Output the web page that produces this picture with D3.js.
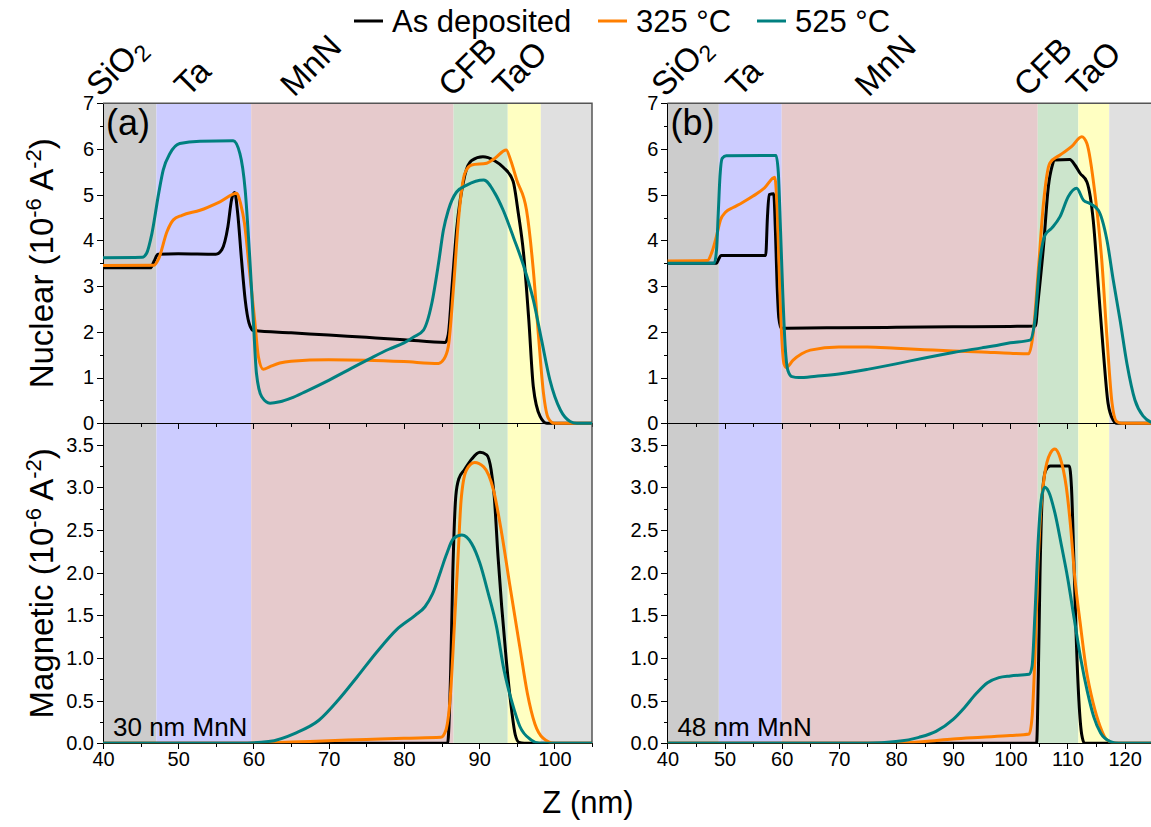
<!DOCTYPE html>
<html lang="en">
<head>
<meta charset="utf-8">
<title>Nuclear and magnetic SLD profiles</title>
<script src="https://cdn.jsdelivr.net/npm/d3@7"></script>
<style>
  body { margin: 0; background: #fff; }
  svg { font-family: "Liberation Sans", Arial, sans-serif; }
  .axis path, .axis line { stroke: #000; shape-rendering: crispEdges; }
  .axis text { font-size: 20px; fill: #000; }
  .curve { fill: none; stroke-width: 3px; stroke-linejoin: round; }
</style>
</head>
<body>
<script>

// ---- data (z in nm, SLD in 1e-6 A^-2) ----
var seriesNames = ["As deposited", "325 °C", "525 °C"];
var seriesColors = ["#000000", "#ff7f00", "#008080"];

var layerNames = ["SiO2", "Ta", "MnN", "CFB", "TaO", ""];
var layerColors = ["#cccccc", "#ccccff", "#e6cacc", "#cce5cc", "#ffffc2", "#e0e0e0"];
var layersA = [40, 47.1, 59.7, 86.6, 93.8, 98.2, 105];
var layersB = [40, 49.0, 60.0, 104.8, 111.9, 117.3, 125];

var nucTicks = [0, 1, 2, 3, 4, 5, 6, 7];
var magTicks = [0, 0.5, 1, 1.5, 2, 2.5, 3, 3.5];

// panel (a), nuclear
var nucA_dep = [[40,3.4],[46.3,3.4],[46.8,3.55],[47.3,3.7],[50,3.71],[55,3.7],[55.8,3.8],[56.6,4.3],[57.1,4.9],[57.5,5.05],[57.9,4.6],[58.4,3.6],[58.9,2.7],[59.4,2.2],[60,2.03],[65,1.98],[70,1.93],[75,1.88],[80,1.83],[85.5,1.77],[85.9,1.95],[86.4,3.0],[87.0,4.23],[88.1,5.43],[89,5.75],[90.5,5.83],[92,5.75],[93.2,5.6],[94.5,5.3],[95.2,4.6],[95.9,3.72],[96.6,2.26],[97.2,0.8],[98.1,0.15],[99,0],[105,0]];
var nucA_325 = [[40,3.45],[46.8,3.46],[47.4,3.6],[48.5,4.19],[49.35,4.45],[50.5,4.55],[52.9,4.66],[55.6,4.85],[57.8,5.03],[58.3,4.8],[58.8,4.38],[59.5,3.29],[60.2,2.19],[60.65,1.46],[61.3,1.18],[62.2,1.24],[63.5,1.32],[65,1.36],[70,1.39],[75,1.38],[80,1.35],[84.6,1.31],[85.3,1.4],[85.9,1.68],[86.6,2.99],[87.25,4.45],[88.1,5.47],[89.0,5.65],[91.0,5.69],[92.1,5.8],[93.6,5.98],[94.2,5.75],[95.0,5.32],[96.3,4.66],[97.2,3.35],[97.9,1.89],[98.55,0.66],[99.2,0.11],[100,0],[105,0]];
var nucA_525 = [[40,3.62],[45.2,3.63],[45.8,3.72],[46.5,4.15],[47.4,5.03],[48.0,5.54],[48.9,5.9],[50.2,6.12],[52.9,6.17],[57.3,6.18],[58.2,5.9],[58.9,5.1],[59.5,3.64],[60.0,2.19],[60.4,1.09],[61.1,0.58],[62.2,0.44],[63.5,0.47],[65,0.55],[67,0.7],[70,0.94],[73,1.2],[76,1.46],[78,1.62],[80,1.76],[81.3,1.89],[82.6,2.04],[83.7,2.62],[84.6,3.5],[85.25,4.23],[85.9,4.66],[87.0,5.06],[88.35,5.21],[90.6,5.32],[92.1,5.03],[93.2,4.66],[94.6,4.05],[95.9,3.45],[97.2,2.7],[98.3,1.82],[99.4,0.95],[100.8,0.29],[102.1,0.04],[103,0],[105,0]];

// panel (a), magnetic
var magA_dep = [[40,0],[85.8,0],[86.2,0.8],[86.5,2.0],[86.9,2.9],[87.3,3.1],[88,3.2],[89,3.33],[90.1,3.41],[91.0,3.38],[91.6,3.2],[92.0,2.9],[92.5,2.2],[93.0,1.6],[93.6,0.98],[94.3,0.4],[94.8,0.1],[95.3,0.01],[96,0],[105,0]];
var magA_325 = [[40,0],[60,0],[65,0.015],[70,0.03],[75,0.045],[80,0.06],[84.9,0.07],[85.6,0.16],[86.2,0.59],[86.7,1.37],[87.2,2.2],[87.6,2.85],[88.3,3.2],[89.4,3.29],[90.6,3.24],[91.9,2.97],[93.0,2.46],[94.1,1.84],[95.4,1.13],[96.4,0.59],[97.4,0.23],[98.5,0.06],[100,0],[105,0]];
var magA_525 = [[40,0],[58,0],[62,0.02],[65.6,0.12],[68.7,0.27],[71.3,0.51],[73.8,0.78],[76.4,1.07],[79.0,1.33],[81.5,1.5],[82.8,1.6],[83.8,1.75],[84.9,2.02],[85.6,2.2],[86.6,2.4],[87.7,2.44],[89.0,2.34],[90.1,2.11],[91.2,1.76],[92.3,1.37],[93.3,0.86],[94.4,0.47],[95.4,0.2],[96.9,0.04],[98,0],[105,0]];

// panel (b), nuclear
var nucB_dep = [[40,3.5],[48.6,3.5],[49.0,3.6],[49.4,3.67],[57.2,3.67],[57.5,4.5],[57.8,5.0],[58.6,5.02],[58.9,4.2],[59.2,3.0],[59.5,2.3],[59.9,2.08],[70,2.09],[80,2.1],[90,2.11],[100,2.12],[104.4,2.13],[104.8,2.6],[105.8,3.86],[106.65,5.17],[107.3,5.62],[107.8,5.76],[110.4,5.77],[111.3,5.65],[112.2,5.47],[113.4,5.28],[114,4.95],[114.5,4.45],[115.4,2.99],[116.3,1.53],[117.1,0.44],[118.0,0.07],[118.6,0],[125,0]];
var nucB_325 = [[40,3.55],[47,3.56],[47.8,3.75],[48.6,4.1],[49.3,4.45],[50.2,4.62],[51.5,4.72],[53,4.82],[55,4.97],[57,5.15],[58.8,5.38],[59.2,4.7],[59.6,3.2],[60.0,1.9],[60.4,1.3],[60.8,1.22],[62,1.38],[63.5,1.52],[65,1.6],[70,1.67],[75,1.67],[80,1.64],[85,1.61],[90,1.58],[95,1.56],[100,1.53],[103.2,1.52],[104.0,1.97],[104.9,3.35],[105.8,4.81],[106.9,5.69],[108.7,5.87],[110.7,6.05],[112.5,6.27],[113.4,6.12],[114.8,5.03],[116.0,3.57],[116.9,1.89],[117.8,0.44],[118.6,0.04],[119.5,0],[125,0]];
var nucB_525 = [[40,3.5],[48.2,3.5],[48.6,3.8],[48.9,4.6],[49.2,5.4],[49.6,5.8],[50.3,5.85],[59,5.86],[59.4,5.5],[59.8,4.2],[60.2,2.8],[60.6,1.7],[61.1,1.15],[61.8,1.02],[63,1.0],[66,1.03],[70,1.08],[75,1.18],[80,1.3],[85,1.43],[90,1.55],[95,1.65],[97,1.69],[100,1.76],[103.45,1.82],[104.3,2.26],[105.2,3.57],[106.1,4.12],[107.25,4.27],[108.7,4.52],[110.15,4.96],[111.6,5.14],[112.8,4.88],[113.9,4.81],[115.4,4.66],[116.9,4.01],[118.0,3.14],[119.2,2.26],[120.4,1.31],[121.8,0.51],[123.3,0.15],[124.5,0.03],[125,0.01]];

// panel (b), magnetic
var magB_dep = [[40,0],[104.6,0],[104.9,0.8],[105.2,2.0],[105.6,2.9],[106.2,3.2],[107,3.25],[110.3,3.25],[110.7,3.0],[111.1,2.2],[111.5,1.3],[112,0.5],[112.5,0.1],[113,0],[125,0]];
var magB_325 = [[40,0],[80,0],[85,0.02],[90,0.05],[95,0.07],[100,0.09],[103.3,0.11],[103.8,0.3],[104.3,1.0],[104.8,2.0],[105.3,2.7],[106,3.15],[107,3.4],[107.8,3.45],[108.7,3.35],[109.8,3.0],[110.6,2.5],[111.2,2.0],[112.3,1.37],[113.3,0.86],[114.5,0.47],[115.7,0.2],[116.9,0.04],[118.5,0],[125,0]];
var magB_525 = [[40,0],[75,0],[80,0.02],[84,0.07],[87,0.14],[90,0.28],[92,0.42],[94,0.58],[96,0.71],[98,0.77],[100,0.79],[103.3,0.81],[103.8,0.9],[104.3,1.5],[104.9,2.4],[105.4,2.85],[106,3.0],[106.7,2.95],[107.8,2.7],[109,2.3],[110,1.95],[111.2,1.45],[112.3,1.0],[113.5,0.6],[114.6,0.31],[115.8,0.12],[117.5,0.02],[119,0],[125,0]];

// ---- layout ----
var width = 1151, height = 827;
var yTop = 103.3, yMid = 423.3, yBot = 743.3;

var panels = [
  { id: "a", domain: [40, 105], range: [103, 592], layers: layersA, xTicks: d3.range(40, 101, 10),
    labelZ: [39.6, 51.3, 65.4, 86.4, 93.6], tag: "(a)", note: "30 nm MnN",
    nuc: [nucA_dep, nucA_325, nucA_525], mag: [magA_dep, magA_325, magA_525] },
  { id: "b", domain: [40, 125], range: [667.4, 1153.2], layers: layersB, xTicks: d3.range(40, 121, 10),
    labelZ: [39.6, 52.6, 75.2, 103.0, 112.2], tag: "(b)", note: "48 nm MnN",
    nuc: [nucB_dep, nucB_325, nucB_525], mag: [magB_dep, magB_325, magB_525] }
];

var svg = d3.select("body").append("svg")
  .attr("width", width)
  .attr("height", height);

var yNuc = d3.scaleLinear().domain([0, 7]).range([yMid, yTop]);
var yMag = d3.scaleLinear().domain([0, 3.75]).range([yBot, yMid]);

panels.forEach(function(p) {
  var x = d3.scaleLinear().domain(p.domain).range(p.range);
  var g = svg.append("g").attr("class", "panel-" + p.id);

  // layer bands
  var bands = d3.pairs(p.layers);
  g.selectAll("rect.band")
    .data(bands)
    .enter().append("rect")
    .attr("class", "band")
    .attr("x", function(d) { return x(d[0]); })
    .attr("width", function(d) { return x(d[1]) - x(d[0]); })
    .attr("y", yTop)
    .attr("height", yBot - yTop)
    .style("fill", function(d, i) { return layerColors[i]; });

  // layer names, rotated
  g.selectAll("text.layer")
    .data(p.labelZ)
    .enter().append("text")
    .attr("class", "layer")
    .attr("transform", function(d) { return "translate(" + x(d) + ",98) rotate(-45)"; })
    .style("font-size", "33px")
    .each(function(d, i) {
      var t = d3.select(this);
      if (layerNames[i] === "SiO2") {
        t.append("tspan").text("SiO");
        t.append("tspan").attr("dy", 6).style("font-size", "23px").text("2");
      } else {
        t.text(layerNames[i]);
      }
    });

  // clip for curves
  g.append("clipPath").attr("id", "clip-" + p.id)
    .append("rect")
    .attr("x", p.range[0]).attr("y", yTop)
    .attr("width", p.range[1] - p.range[0]).attr("height", yBot - yTop);

  // axes
  var minorX = d3.range(p.domain[0] + 5, p.domain[1] + 0.1, 10);

  g.append("g").attr("class", "axis")
    .attr("transform", "translate(0," + yMid + ")")
    .call(d3.axisBottom(x).tickValues(p.xTicks).tickSize(6).tickFormat(""))
    .call(function(s) { s.select(".domain").attr("d", "M" + p.range[0] + ",0H" + p.range[1]); });
  g.append("g").attr("class", "axis")
    .attr("transform", "translate(0," + yMid + ")")
    .call(d3.axisBottom(x).tickValues(minorX).tickSize(3.5).tickFormat(""))
    .call(function(s) { s.select(".domain").remove(); });

  g.append("g").attr("class", "axis")
    .attr("transform", "translate(0," + yBot + ")")
    .call(d3.axisBottom(x).tickValues(p.xTicks).tickSize(6).tickPadding(3).tickFormat(d3.format("d")))
    .call(function(s) { s.select(".domain").attr("d", "M" + p.range[0] + ",0H" + p.range[1]); });
  g.append("g").attr("class", "axis")
    .attr("transform", "translate(0," + yBot + ")")
    .call(d3.axisBottom(x).tickValues(minorX).tickSize(3.5).tickFormat(""))
    .call(function(s) { s.select(".domain").remove(); });

  g.append("g").attr("class", "axis")
    .attr("transform", "translate(" + p.range[0] + ",0)")
    .call(d3.axisLeft(yNuc).tickValues(nucTicks).tickSize(6).tickPadding(3).tickFormat(d3.format("d")))
    .call(function(s) { s.select(".domain").attr("d", "M0," + yTop + "V" + yMid); });
  g.append("g").attr("class", "axis")
    .attr("transform", "translate(" + p.range[0] + ",0)")
    .call(d3.axisLeft(yNuc).tickValues(d3.range(0.5, 7, 1)).tickSize(3.5).tickFormat(""))
    .call(function(s) { s.select(".domain").remove(); });

  g.append("g").attr("class", "axis")
    .attr("transform", "translate(" + p.range[0] + ",0)")
    .call(d3.axisLeft(yMag).tickValues(magTicks).tickSize(6).tickPadding(3).tickFormat(d3.format(".1f")))
    .call(function(s) { s.select(".domain").attr("d", "M0," + yMid + "V" + yBot); });
  g.append("g").attr("class", "axis")
    .attr("transform", "translate(" + p.range[0] + ",0)")
    .call(d3.axisLeft(yMag).tickValues(d3.range(0.25, 3.75, 0.5)).tickSize(3.5).tickFormat(""))
    .call(function(s) { s.select(".domain").remove(); });

  // frame top / right
  g.append("path")
    .attr("d", "M" + p.range[0] + "," + yTop + "H" + p.range[1] + "V" + yBot)
    .style("fill", "none").style("stroke", "#555").style("stroke-width", "1.5px");

  // curves
  var lineNuc = d3.line().curve(d3.curveMonotoneX)
    .x(function(d) { return x(d[0]); }).y(function(d) { return yNuc(d[1]); });
  var lineMag = d3.line().curve(d3.curveMonotoneX)
    .x(function(d) { return x(d[0]); }).y(function(d) { return yMag(d[1]); });

  var cg = g.append("g").attr("clip-path", "url(#clip-" + p.id + ")");
  p.mag.forEach(function(s, i) {
    cg.append("path").attr("class", "curve").attr("d", lineMag(s)).style("stroke", seriesColors[i]);
  });
  p.nuc.forEach(function(s, i) {
    cg.append("path").attr("class", "curve").attr("d", lineNuc(s)).style("stroke", seriesColors[i]);
  });

  // panel tag and thickness note
  g.append("text")
    .attr("x", p.range[0] + 3).attr("y", 135)
    .style("font-size", "36px")
    .text(p.tag);
  g.append("text")
    .attr("x", p.range[0] + 10).attr("y", 736)
    .style("font-size", "26px")
    .text(p.note);
});

// y axis titles
function sldTitle(label, cy) {
  var t = svg.append("text")
    .attr("transform", "translate(53," + cy + ") rotate(-90)")
    .attr("text-anchor", "middle")
    .style("font-size", "33px");
  t.append("tspan").text(label + " (10");
  t.append("tspan").attr("dy", -12).style("font-size", "22px").text("-6");
  t.append("tspan").attr("dy", 12).text(" A");
  t.append("tspan").attr("dy", -12).style("font-size", "22px").text("-2");
  t.append("tspan").attr("dy", 12).text(")");
}
sldTitle("Nuclear", (yTop + yMid) / 2);
sldTitle("Magnetic", (yMid + yBot) / 2);

// x axis title
svg.append("text")
  .attr("x", 588).attr("y", 813)
  .attr("text-anchor", "middle")
  .style("font-size", "31px")
  .text("Z (nm)");

// legend
var legendX = [354, 598, 757];
var legend = svg.append("g").attr("class", "legend");
seriesNames.forEach(function(name, i) {
  legend.append("line")
    .attr("x1", legendX[i]).attr("x2", legendX[i] + 29)
    .attr("y1", 21).attr("y2", 21)
    .style("stroke", seriesColors[i]).style("stroke-width", "3px");
  legend.append("text")
    .attr("x", legendX[i] + 38).attr("y", 32)
    .style("font-size", "31px")
    .text(name);
});

</script>
</body>
</html>
